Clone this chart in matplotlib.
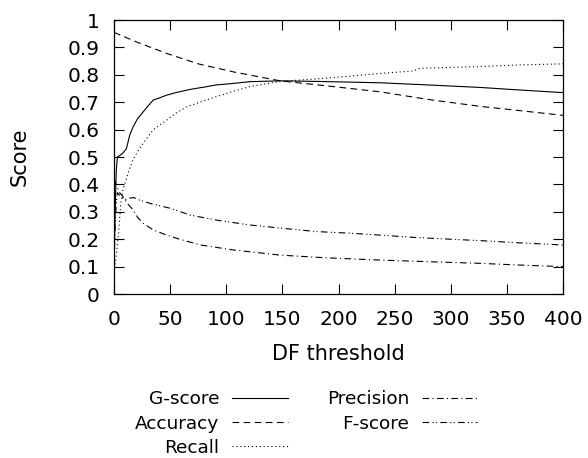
import matplotlib
matplotlib.use("Agg")
import matplotlib.pyplot as plt
import numpy as np

# DF threshold vs. scores
g_x = [0, 1, 2, 3, 5, 8, 11, 14, 17, 21, 26, 30, 35, 40, 47, 55, 68, 80, 91,
       105, 121, 148, 180, 237, 280, 326, 360, 400]
g_y = [0.10, 0.30, 0.45, 0.50, 0.505, 0.515, 0.53, 0.58, 0.61, 0.64, 0.665,
       0.685, 0.708, 0.715, 0.726, 0.735, 0.747, 0.755, 0.763, 0.768, 0.775,
       0.778, 0.776, 0.771, 0.763, 0.754, 0.745, 0.735]

acc_x = [0, 20, 47, 75, 106, 148, 200, 237, 280, 326, 360, 400]
acc_y = [0.955, 0.92, 0.878, 0.84, 0.811, 0.778, 0.755, 0.738, 0.71, 0.685,
         0.67, 0.652]

rec_x = [0, 2, 4, 6, 8, 11, 14, 17, 21, 26, 35, 47, 55, 65, 80, 91, 105, 121,
         148, 180, 210, 237, 266, 273, 300, 326, 360, 400]
rec_y = [0.08, 0.14, 0.22, 0.33, 0.38, 0.42, 0.46, 0.49, 0.52, 0.55, 0.60,
         0.635, 0.66, 0.684, 0.705, 0.72, 0.738, 0.757, 0.776, 0.785, 0.795,
         0.805, 0.814, 0.824, 0.827, 0.83, 0.836, 0.84]

prec_x = [0, 2, 5, 8, 12, 17, 21, 26, 35, 45, 56, 77, 106, 148, 190, 237, 280,
          326, 360, 400]
prec_y = [0.42, 0.40, 0.37, 0.355, 0.33, 0.307, 0.28, 0.258, 0.234, 0.218,
          0.203, 0.179, 0.161, 0.142, 0.132, 0.124, 0.118, 0.112, 0.106, 0.10]

f_x = [0, 1, 2, 3, 5, 8, 11, 14, 18, 20, 25, 32, 50, 68, 91, 121, 150, 180,
       210, 237, 266, 300, 326, 360, 400]
f_y = [0.10, 0.25, 0.33, 0.37, 0.36, 0.35, 0.345, 0.35, 0.352, 0.346, 0.34,
       0.331, 0.313, 0.288, 0.27, 0.252, 0.24, 0.228, 0.222, 0.215, 0.207,
       0.20, 0.195, 0.187, 0.179]

fig = plt.figure(figsize=(5.88, 4.58), dpi=100)
ax = fig.add_axes([0.1939, 0.358, 0.7636, 0.5983])

lw = 0.8
ax.plot(g_x, g_y, color="black", lw=lw, label="G-score")
ax.plot(acc_x, acc_y, color="black", lw=lw, dashes=(6, 4), label="Accuracy")
ax.plot(rec_x, rec_y, color="black", lw=lw, dashes=(1, 2.5), label="Recall")
ax.plot(prec_x, prec_y, color="black", lw=lw, dashes=(6, 3, 1, 3),
        label="Precision")
ax.plot(f_x, f_y, color="black", lw=lw, dashes=(6, 3, 1, 2, 1, 3),
        label="F-score")

ax.set_xlim(0, 400)
ax.set_ylim(0, 1)
ax.set_xticks(np.arange(0, 401, 50))
yt = np.round(np.arange(0, 1.01, 0.1), 1)
ax.set_yticks(yt)
ax.set_yticklabels(["0" if v == 0 else ("1" if v == 1 else "%g" % v) for v in yt])
ax.tick_params(direction="in", length=7, width=0.8, top=True, right=True,
               labelsize=14.5)
ax.tick_params(axis="y", pad=10.5)
ax.tick_params(axis="x", pad=11.5)
for s in ax.spines.values():
    s.set_linewidth(0.9)

ax.set_xlabel("DF threshold", fontsize=15, labelpad=11)
ax.set_ylabel("Score", fontsize=15, labelpad=27)

leg = fig.legend(loc="upper center", bbox_to_anchor=(0.521, 0.168), ncol=2,
                 markerfirst=False, frameon=False, fontsize=13.3,
                 handlelength=3.0, handletextpad=0.7, columnspacing=2.1,
                 labelspacing=0.34, borderpad=0)

fig.savefig("out.png", dpi=100)
